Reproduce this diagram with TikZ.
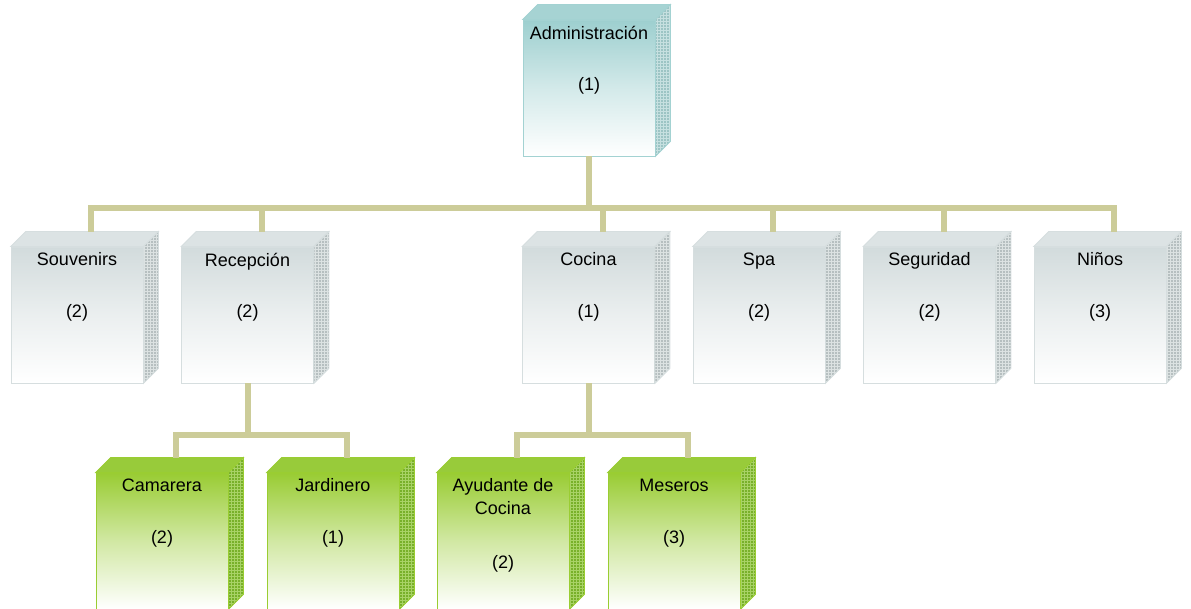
\documentclass[tikz,border=0pt]{standalone}
\usepackage{fontspec}
\setmainfont{Liberation Sans}
\usepackage{xcolor}
\usetikzlibrary{positioning, patterns}

\definecolor{admF}{HTML}{9DCFCF}
\definecolor{admT}{HTML}{A6D3D3}
\definecolor{admS}{HTML}{9CC4C4}
\definecolor{admG}{HTML}{C6E0E0}
\definecolor{admB}{HTML}{A3D2D2}
\definecolor{depF}{HTML}{D2DBDC}
\definecolor{depT}{HTML}{DCE3E4}
\definecolor{depS}{HTML}{B6BFC0}
\definecolor{depG}{HTML}{DCE2E2}
\definecolor{depB}{HTML}{D6DEDF}
\definecolor{subF}{HTML}{99CC33}
\definecolor{subT}{HTML}{98CB3A}
\definecolor{subS}{HTML}{78B02A}
\definecolor{subG}{HTML}{A8D266}
\definecolor{subB}{HTML}{9ACD32}
\definecolor{linkc}{HTML}{CCCC99}

\tikzset{
  cubefront/.style={draw=#1B, line width=0.8pt, top color=#1F, bottom color=white,
    middle color=#1F!45, minimum width=132pt, minimum height=136pt, inner sep=0pt},
  cubetop/.style={fill=#1T, draw=#1B, line width=0.8pt},
  cubeside/.style={preaction={fill=#1S}, pattern=grid, pattern color=#1G,
    draw=#1B, line width=0.8pt},
  cubetext/.style={align=center, inner sep=0pt, font=\fontsize{18}{23}\selectfont},
  link/.style={draw=linkc, line width=6pt}
}

% #1 offset of the number, #2 name, #3 centre, #4 scheme, #5 label, #6 number
\newcommand{\orgcube}[6][66]{%
  \node[cubefront=#4] (#2) at (#3) {};
  \path[cubetop=#4] (#2.north west) -- ++(15,-15)
    -- ([shift={(15pt,15pt)}]#2.north east) -- (#2.north east) -- cycle;
  \path[cubeside=#4] (#2.north east) -- ([shift={(15pt,15pt)}]#2.north east)
    -- ([shift={(15pt,15pt)}]#2.south east) -- (#2.south east) -- cycle;
  \node[cubetext, anchor=north] (#2-t) at ([yshift=-6pt]#2.north) {#5};
  \node[cubetext] (#2-n) at ([yshift=-#1pt]#2.north) {#6};
}

\begin{document}
\begin{tikzpicture}[x=1pt, y=-1pt]
  \useasboundingbox (0,0) rectangle (1191,609);

  \orgcube{adm}{589,88}{adm}{Administración}{(1)}

  \orgcube{sou}{77,315}{dep}{Souvenirs}{(2)}
  \orgcube{rec}{247.5,315}{dep}{Recepción}{(2)}
  \orgcube{coc}{588.5,315}{dep}{Cocina}{(1)}
  \orgcube{spa}{759,315}{dep}{Spa}{(2)}
  \orgcube{seg}{929.5,315}{dep}{Seguridad}{(2)}
  \orgcube{nin}{1100,315}{dep}{Niños}{(3)}

  \orgcube{cam}{162,541}{sub}{Camarera}{(2)}
  \orgcube{jar}{333,541}{sub}{Jardinero}{(1)}
  \orgcube[91]{ayu}{503,541}{sub}{Ayudante de\\Cocina}{(2)}
  \orgcube{mes}{674,541}{sub}{Meseros}{(3)}

  % connectors
  \coordinate (bus1) at (0,208);
  \coordinate (bus2) at (0,435);
  \foreach \d in {sou,rec,coc,spa,seg,nin}
    \draw[link] (adm.south) -- (adm.south |- bus1) -| ([shift={(14pt,15pt)}]\d.north);
  \foreach \d in {cam,jar}
    \draw[link] (rec.south) -- (rec.south |- bus2) -| ([shift={(14pt,15pt)}]\d.north);
  \foreach \d in {ayu,mes}
    \draw[link] (coc.south) -- (coc.south |- bus2) -| ([shift={(14pt,15pt)}]\d.north);
\end{tikzpicture}
\end{document}
